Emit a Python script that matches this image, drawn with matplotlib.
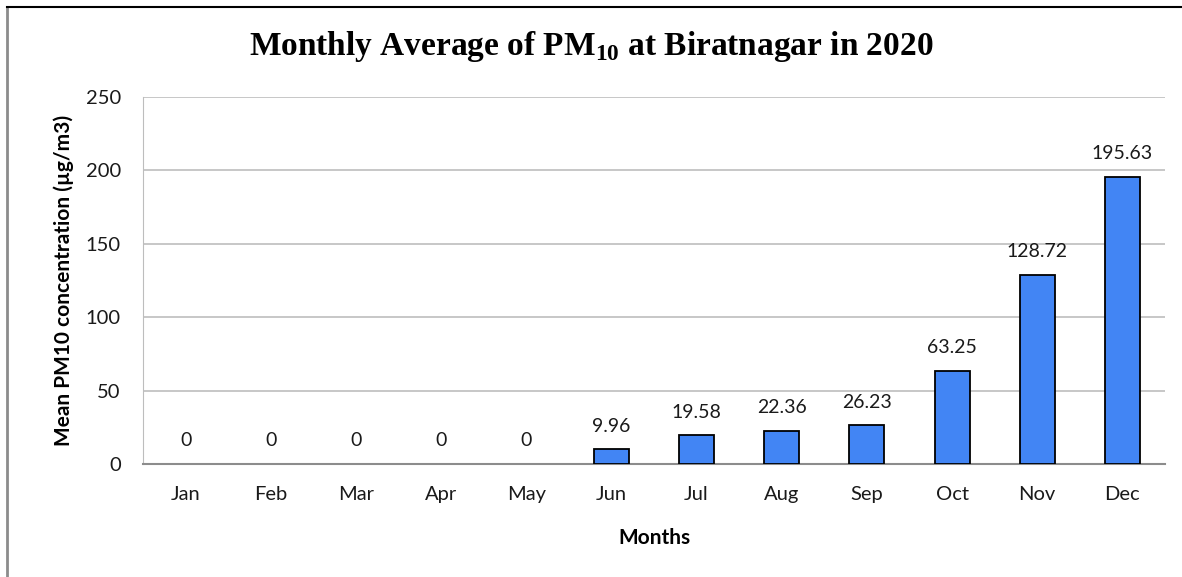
import numpy as np
import matplotlib.pyplot as plt
from matplotlib.lines import Line2D

months = ["Jan", "Feb", "Mar", "Apr", "May", "Jun", "Jul", "Aug", "Sep", "Oct", "Nov", "Dec"]
pm10 = [0, 0, 0, 0, 0, 9.96, 19.58, 22.36, 26.23, 63.25, 128.72, 195.63]
labels = ["0", "0", "0", "0", "0", "9.96", "19.58", "22.36", "26.23", "63.25", "128.72", "195.63"]

plt.rcParams["mathtext.fontset"] = "custom"
plt.rcParams["mathtext.bf"] = "Liberation Serif:bold"
plt.rcParams["mathtext.rm"] = "Liberation Serif:bold"

W, H = 1182, 577
fig = plt.figure(figsize=(W / 100, H / 100), dpi=100)
ax = fig.add_axes([143 / W, 1 - 464 / H, (1165 - 143) / W, (464 - 97) / H])

x = np.arange(len(months))
edges = ["black" if v > 0 else "none" for v in pm10]
ax.bar(x, pm10, width=0.41, color="#4285f4", edgecolor=edges, linewidth=1.3, zorder=3)

font = "Lato"
for xi, v, lab in zip(x, pm10, labels):
    ax.text(xi, v + 10, lab, ha="center", va="bottom", fontsize=14,
            family=font, color="#1a1a1a")

ax.set_xlim(-0.5, 11.5)
ax.set_ylim(0, 250)
ax.set_yticks([0, 50, 100, 150, 200, 250])
ax.set_xticks(x)
ax.set_xticklabels(months)
ax.grid(axis="y", color="#bdbdbd", linewidth=1.2, zorder=0)
for s in ["top", "right"]:
    ax.spines[s].set_visible(False)
ax.spines["left"].set_color("#bdbdbd")
ax.spines["bottom"].set_color("#8c8c8c")
ax.spines["bottom"].set_linewidth(1.5)
ax.tick_params(length=0, labelsize=14.5, colors="#1a1a1a")
ax.tick_params(axis="x", pad=16)
ax.tick_params(axis="y", pad=16)
for t in ax.get_xticklabels() + ax.get_yticklabels():
    t.set_family(font)

ax.set_xlabel("Months", fontsize=15, fontweight="bold", family=font, labelpad=18)
ax.set_ylabel("Mean PM10 concentration (µg/m3)", fontsize=15, fontweight="bold",
              family=font, labelpad=8)

fig.text(0.5, 1 - 47 / H, r"Monthly Average of PM$_{\mathbf{10}}$ at Biratnagar in 2020",
         ha="center", va="center", fontsize=24, fontweight="bold", family="Liberation Serif")

# frame around chart
fig.add_artist(Line2D([7 / W, 7 / W], [0, 1 - 7 / H], transform=fig.transFigure,
                      color="#8c8c8c", linewidth=2))
fig.add_artist(Line2D([7 / W, 1], [1 - 7 / H, 1 - 7 / H], transform=fig.transFigure,
                      color="black", linewidth=1.5))

fig.savefig("out.png", dpi=100)
